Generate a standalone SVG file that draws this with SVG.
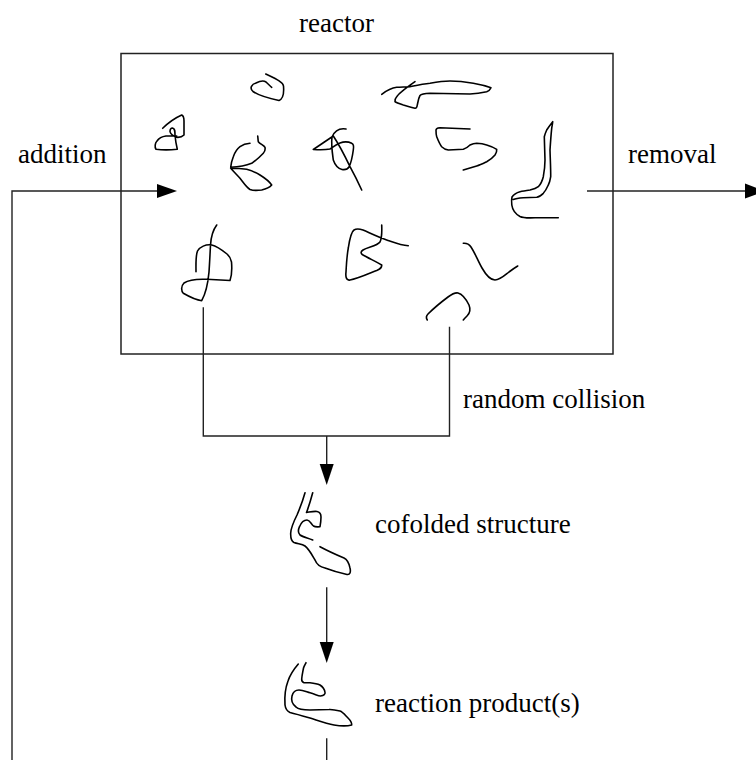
<svg xmlns="http://www.w3.org/2000/svg" width="756" height="760" viewBox="0 0 756 760">
  <style>
    .label { font-family: "Liberation Serif", "Times New Roman", serif; font-size: 27px; fill: #000; }
    .frame { fill: none; stroke: #222; stroke-width: 1.5; }
    .wire { fill: none; stroke: #222; stroke-width: 1.4; }
    .chain { fill: none; stroke: #000; stroke-width: 1.6; stroke-linecap: round; stroke-linejoin: round; }
    .head { fill: #000; }
  </style>
  <rect width="756" height="760" fill="#fff"/>

  <!-- reactor vessel -->
  <g id="reactor">
    <rect class="frame" x="121" y="53.5" width="492" height="300.5"/>
    <text class="label" x="299" y="32">reactor</text>
  </g>

  <!-- molecules inside the reactor -->
  <g id="molecules">
    <path class="chain" d="M265.7,74 C276,79 283,82 283.5,86 C284,92 283,99 279,100.5 C272,99 258,95 253,91.5 C249,88 252,84 256,83 C260,81 263,80 266,82 C268,84 270,86 271.7,87.3"/>
    <path class="chain" d="M162.7,128.3 C168,123 175,118 181.7,115 C184,116 184,118 184,121 L184,135 C182,137 179,137.5 176.7,137.3 C173,136 170.5,134 170,131.7 C170,129 171,128 172.5,128 C175,128.5 175,131 175,135 C175.5,141 176.5,146 177.3,149.3 C170,150 162,150 156,149.3 C154.5,147 155,143 157,141 C159,138 162,136.5 166,136 L176.7,136"/>
    <path class="chain" d="M257.7,136 C258,138 258,140 258.3,141.7 C260,144 264,145.5 265,147.3 C265.5,150 264.5,152 263.3,153.3 C259,158 255,161 251.7,163.3 C245,166 237,167 230.7,167.3 C231,163 232,160 233.3,156.7 C235,152 237,149 240,146.7 C243,144.5 247,143.5 250,143.3"/>
    <path class="chain" d="M230.7,168.3 C234,172 237,175 240,178.3 C243,182 246,187 250,189.5 C254,191 258,190.5 261.7,190 C266,189 270,187 271.7,185 C269,181 264,177.5 260,175 C255,172 251,170.5 246.7,169.3 C241,168.5 235,168.3 230.7,168.3"/>
    <path class="chain" d="M381.7,94.3 C386,91 391,88 396.7,87.3 C401,87 405,87 410,86.7 C416,85.5 423,84 430,83.3 C437,82 444,81 450,81 C458,81 466,82 473.3,83.3 C480,84.5 486,86 491,87.7 C490,90 488.5,91 486.7,91.7 C481,93 475,93.8 470,94 L430,93.3 C425,93.5 421.5,93.8 420,95.5 C418.5,98 418,102 417.3,105 C417,107 416.5,108.5 415,108.3 C411,107.5 407,106 403.3,105 C400,104 396.5,103 395,101.7 C394.5,99.5 395.5,98 396.7,96.7 C398,95 400,93 401.7,91.7 C406,88 411,84.5 415,81.7"/>
    <path class="chain" d="M346,129 C340,128 335,130 332,137 C331,145 332.5,154 333.3,160 C335,165 338,168.5 342,169.5 C345,170 347.5,169.5 349,167 C351,163 352.5,156 353.3,150 C354,146 353.5,144 351.7,143.3 C348,141.5 344,141.5 340,143 C336,144.5 333,147 330,149 C325,150 319,149.8 313.3,149.5 L333.3,136 C338,143 343,152 350,166.7 C354,174 358,182 361.7,190"/>
    <path class="chain" d="M470,129 L440,127.7 C437,128 436,128.5 436,130 C436,133 436,135 436.7,136.7 C438,140 439.5,144 441.7,146.7 C443.5,148.5 445.5,149.5 448.3,150 L463.3,149.3 C466,148.5 468,147 470,145 C472,144 474,143.3 476.7,143.3 C480,143.5 483.5,144 486.7,145 C490,146 494,147.5 496.7,149.3 C497,151.5 496,153.5 495,155 C492.5,158 490,160 486.7,161.7 C483,163.5 480,165 476.7,166 C472,167.5 467.5,168.8 463.3,170"/>
    <path class="chain" d="M558.3,217.7 L537,217.7 C530,218 524,218.5 520,216.5 C515.5,214 512.5,210 511.8,205 C511.5,202 511.5,199 512,197 C514,194 517,192.5 520,191.7 C523,191 526.5,190.5 530,190 C533,189.3 536,188.5 538.3,186.7 C541,184 542.5,180 543.3,176.7 C544.5,170 545,165 545,160 L544.3,136.7 C545,134 545.8,132 546.7,130 C548.5,127 550.5,124.5 552.7,121.7 C552.5,124 552,126 551.7,128.3 C551,135 550.5,142 550,150 C550.3,160 550.8,170 550.7,176.7 C550.2,180 549.5,183 548.3,185 C546.5,189 545,191.5 543.3,193.3 C541,195.5 539,197 536.7,197.3 L523.3,197.7 C519,198 515.5,198.5 513.3,199.5"/>
    <path class="chain" d="M216.7,225 C213,230 211,237 210.5,245 C210,255 209.5,265 209,272 C208,283 206,293 201.7,300.7 C195,300 188,296 183.3,293.3 C181,291 181,286 184,283 C190,279 200,279 206.7,279.3 L230,280.5 C232,275 232,268 231.5,262 C230.5,258 229.5,256 227,254 C222,250 216,246 211.7,245 C206,244 199.5,247 197.5,251 C195.5,256 196,265 196,271.7"/>
    <path class="chain" d="M381.7,225 C382,232 382,238 380,242 C377,246 368,247 363,250 C360,252 361,254 363,255 C368,258 377,262 381.7,265 C382,268 380,269 376.7,270.5 C368,274 357,279 350,280 C346,281 345.5,276 346,272 C346.5,262 347,255 348.3,248 C349.5,240 351,232 354,230 C357,228 360,229 363,230 C370,233 378,237 388,240.5 C395,243 401,245.5 408.3,245.7"/>
    <path class="chain" d="M463.3,243.3 C467,243 469,244 471,247 C475,253 478,261 482,268 C486,275 490,280 495,280 C500,280 504,276 509,272 C513,269 516,267 517.7,266"/>
    <path class="chain" d="M427.3,320 C426,318 426,316 428,314 C432,310 440,303 448,297 C452,294 455,292.5 458,293 C462,294 466,299 469,305 C471,310 469,314 467,316 C465,318 464,319 463.3,320"/>
  </g>

  <!-- flows and reaction path -->
  <g id="connectors">
    <polyline class="wire" points="12,760 12,191 158,191"/>
    <polygon class="head" points="157,184 177,191 157,198"/>
    <line class="wire" x1="587" y1="191" x2="746" y2="191"/>
    <polygon class="head" points="745,183.5 765,191 745,198.5"/>
    <polyline class="wire" points="203.3,307.3 203.3,436 449.5,436 449.5,326.7"/>
    <line class="wire" x1="326.7" y1="436" x2="326.7" y2="465"/>
    <polygon class="head" points="319.7,464 333.7,464 326.7,485"/>
    <line class="wire" x1="326.7" y1="587.3" x2="326.7" y2="643"/>
    <polygon class="head" points="319.7,642 333.7,642 326.7,663"/>
    <line class="wire" x1="326.7" y1="738.3" x2="326.7" y2="760"/>
  </g>

  <g id="addition">
    <text class="label" x="18" y="163">addition</text>
  </g>
  <g id="removal">
    <text class="label" x="628" y="162.5">removal</text>
  </g>
  <g id="collision">
    <text class="label" x="463" y="408">random collision</text>
  </g>

  <g id="cofolded">
    <path class="chain" d="M305,492.7 C303,500 300,508 297,515 C294,521 291,527 290.7,533 C290.5,538 291,541 294,542.5 C298,544 302,544 305,546 C309,549 312,555 315,560 C317,565 320,567 325,568 C333,571 340,573 347,574.5 C350,575 351,572 350,568 C349,563 348,560 344,558 C337,555 328,551 320,546.7"/>
    <path class="chain" d="M312.7,492.7 C311,499 309,506 306.5,512.5 C310,512 314,511 317,511.5 C320,512 321,514 321,517 C321,521 320.5,524 320,526.7 C317,527 315,527 313.5,526 C311,524 310,520 307,520 C303,520 301,523 299.5,526.7 C298,530 298,533 300,535 C303,537 308,538 312.7,540"/>
    <text class="label" x="375" y="533">cofolded structure</text>
  </g>

  <g id="product">
    <path class="chain" d="M298.3,664 C294,669 290,675 288,681 C285,689 284.5,698 285,705 C285.5,709 287,711 290,712.5 C296,714 303,716 310,718 C318,720.5 326,723.5 334,725 C340,726 348,726 351.7,725 C352,722 350,720 348,718 C345,715 343,712 340,711 C336,710 333,709.3 329,709.5 L310,710 C305,710 299,710 296,707 C292,704 291,700 292,696 C293,692 296,690 299,690 C303,690 307,692 310,692.7 C315,694 318,696 320.5,696 C324,695.5 325.5,694 325,692 C324.5,689 323,687 320,685 C317,683.5 313,683 310,682.7 L304,682.7 C302,682 301.5,681 301.7,679 C302,675 303,671 303.5,668 C304.5,665 305.5,664 306,662.7"/>
    <text class="label" x="375" y="712">reaction product(s)</text>
  </g>
</svg>
